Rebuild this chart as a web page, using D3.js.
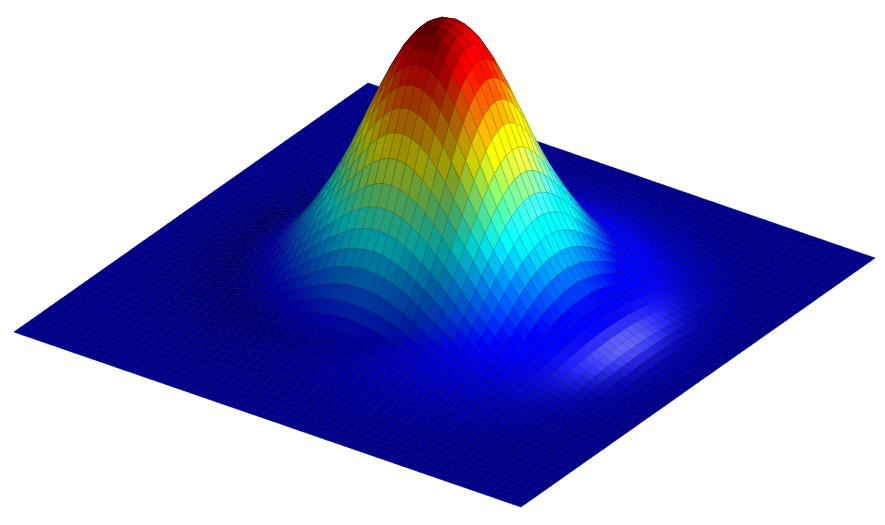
<!DOCTYPE html>
<html><head><meta charset="utf-8">
<style>html,body{margin:0;background:#fff}svg{display:block}</style>
<script src="https://cdnjs.cloudflare.com/ajax/libs/d3/7.8.5/d3.min.js"></script>
</head><body><div id="c"></div>
<script>
// Radial height profile; radius steps of radiusStep
const radiusStep = 0.05;
const heightByRadius = [1.0,0.988,0.945,0.87,0.768,0.652,0.532,0.427,0.337,0.258,0.188,0.132,0.092,0.066,0.046,0.03,0.018,0.009,0.004,0.001,0,0,0,0,0,0,0,0,0,0];
const gridCells = 60;
const jetStops = [0,0.125,0.375,0.625,0.875,1];
const jetColors = ["#00008f","#0000ff","#00ffff","#ffff00","#ff0000","#800000"];

const W=885,H=525;
const cx=444.5,cy=295,zPx=275;
const ex=[253.5,87.5],ey=[177,-124.5];
const norm=v=>{const l=Math.hypot(...v);return v.map(d=>d/l)};
const dot=(p,q)=>p[0]*q[0]+p[1]*q[1]+p[2]*q[2];
const lightDiff=norm([0.62,0.3,0.72]);
const lightSpec=norm([0.35,0,1]);

const mirrored=[...heightByRadius.slice(1).reverse(),...heightByRadius];
const spline=d3.interpolateBasis(mirrored);
const rMax=radiusStep*(heightByRadius.length-1);
const tOf=d3.scaleLinear().domain([-rMax,rMax]).range([0,1]).clamp(true);
const height=(a,b)=>spline(tOf(Math.hypot(a,b)));
const unit=d3.scaleLinear().domain([0,gridCells]).range([-1,1]);
const jet=d3.scaleLinear().domain(jetStops).range(jetColors).clamp(true);

const nodes=d3.range(gridCells+1).map(i=>d3.range(gridCells+1).map(j=>{
  const a=unit(i),b=unit(j),z=height(a,b);
  return {a,b,z,x:cx+a*ex[0]+b*ey[0],y:cy+a*ex[1]+b*ey[1]-z*zPx};
}));
const cells=[];
for(let i=0;i<gridCells;i++)for(let j=gridCells-1;j>=0;j--){
  const p=nodes[i][j],q=nodes[i+1][j],r=nodes[i+1][j+1],s=nodes[i][j+1];
  const da=unit(1)-unit(0);
  const n=norm([-(q.z+r.z-p.z-s.z)/(2*da),-(s.z+r.z-p.z-q.z)/(2*da),1]);
  const zm=(p.z+q.z+r.z+s.z)/4;
  const flat=lightDiff[2];
  const shade=Math.min(1.5,Math.max(0.62,Math.max(0,dot(n,lightDiff))/flat));
  const h=Math.pow(Math.max(0,dot(n,lightSpec)),170);
  const c=d3.rgb(jet(zm));
  const mix=v=>Math.min(255,v*shade+255*0.4*h);
  cells.push({pts:[p,q,r,s],col:d3.rgb(mix(c.r),mix(c.g),mix(c.b))});
}
const svg=d3.select("#c").append("svg").attr("width",W).attr("height",H);
const line=d3.line().x(d=>d.x).y(d=>d.y).curve(d3.curveLinearClosed);
svg.selectAll("path").data(cells).join("path")
  .attr("d",d=>line(d.pts))
  .attr("fill",d=>d.col.formatRgb())
  .attr("stroke",d=>d3.rgb(d.col.r*0.72,d.col.g*0.72,d.col.b*0.72).formatRgb())
  .attr("stroke-width",0.6);
</script></body></html>
